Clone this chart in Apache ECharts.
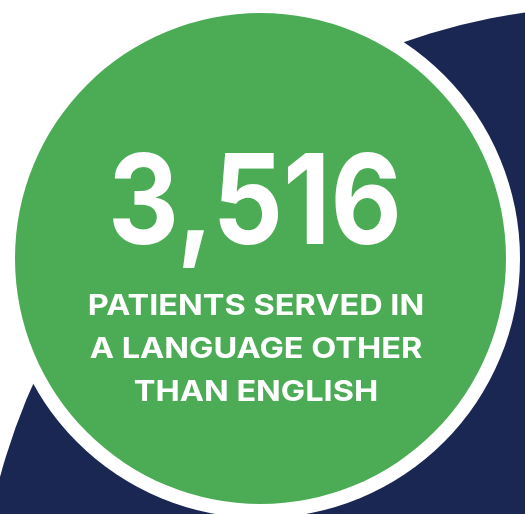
<!DOCTYPE html>
<html><head><meta charset="utf-8">
<script src="https://cdn.jsdelivr.net/npm/echarts@6/dist/echarts.min.js"></script>
<style>html,body{margin:0;padding:0;background:#fff}#c{width:525px;height:514px}</style>
</head><body><div id="c"></div>
<script>
var statValue = ['3,516'];
var statLabelLines = ['PATIENTS SERVED IN', 'A LANGUAGE OTHER', 'THAN ENGLISH'];
var colors = { green: '#4BAC55', navy: '#1A2753', ring: '#FFFFFF', text: '#FFFFFF' };

var chart = echarts.init(document.getElementById('c'), null, { renderer: 'canvas' });
var elements = [
  { type: 'circle', shape: { cx: 615, cy: 643, r: 637 }, style: { fill: colors.navy }, z: 1 },
  { type: 'circle', shape: { cx: 260.5, cy: 258.5, r: 259.5 }, style: { fill: colors.ring }, z: 2 },
  { type: 'circle', shape: { cx: 260.5, cy: 258.5, r: 245.5 }, style: { fill: colors.green }, z: 3 },
  { type: 'text', x: 255, y: 206, scaleX: 0.88, z: 4,
    style: { text: statValue[0], fill: colors.text, font: '700 125px Inter', textAlign: 'center', textVerticalAlign: 'middle' } }
];
statLabelLines.forEach(function (line, i) {
  elements.push({ type: 'text', x: 256, y: 306 + i * 43, scaleX: 1.12, z: 4,
    style: { text: line, fill: colors.text, font: '700 29px Inter', textAlign: 'center', textVerticalAlign: 'middle' } });
});
chart.setOption({ animation: false, graphic: { elements: elements } });
</script></body></html>
